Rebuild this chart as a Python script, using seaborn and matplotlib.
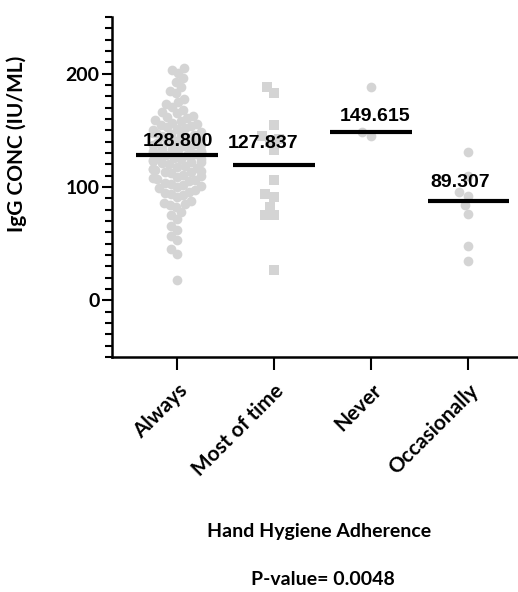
import numpy as np
import pandas as pd
import matplotlib
matplotlib.use('Agg')
import matplotlib.pyplot as plt
import seaborn as sns
from matplotlib.ticker import MultipleLocator

# groups on the x axis
categories = ['Always', 'Most of time', 'Never', 'Occasionally']

# IgG concentration (IU/ML), per group
always_vals = [205, 203, 201, 196, 193, 188, 185, 183, 178, 175, 173, 171,
               168, 166, 165, 163, 162, 161,
               159, 158, 157, 156, 155, 154, 153, 152, 151, 150,
               149, 148, 147, 146, 145, 144, 143, 142, 141, 140, 148, 145,
               139, 138, 137, 136, 135, 134, 133, 132, 131, 130, 137, 134, 132,
               129, 128, 127, 126, 125, 124, 123, 122, 121, 120, 128, 125, 122,
               119, 118, 117, 116, 115, 114, 113, 112, 111, 110, 116, 113,
               109, 108, 106, 105, 104, 102, 101, 100, 107, 103,
               99, 97, 96, 94, 93, 91, 95,
               88, 86, 84, 82, 85, 78, 75, 72, 66, 62, 57, 53, 45, 41, 18]
most_vals = [188, 183, 155, 145, 142, 140, 133, 106, 94, 91, 82, 75, 75, 27]
never_vals = [188, 148.5, 145]
occasional_vals = [131, 110, 95.6, 92, 84, 76, 48, 35]

# numbers printed above each group's line
value_labels = ['128.800', '127.837', '149.615', '89.307']

df = pd.DataFrame({
    'group': (['Always'] * len(always_vals) + ['Most of time'] * len(most_vals)
              + ['Never'] * len(never_vals) + ['Occasionally'] * len(occasional_vals)),
    'igg': always_vals + most_vals + never_vals + occasional_vals,
})

sns.set_theme(style='white')
plt.rcParams['font.family'] = ['Lato', 'DejaVu Sans']
plt.rcParams['text.color'] = 'black'
plt.rcParams['axes.labelcolor'] = 'black'
plt.rcParams['xtick.color'] = 'black'
plt.rcParams['ytick.color'] = 'black'

fig = plt.figure(figsize=(5.18, 5.92), dpi=100)
ax = fig.add_axes([0.216, 0.397, 0.782, 0.574])

grey = '#d4d4d4'
circles = df[df['group'] != 'Most of time']
squares = df[df['group'] == 'Most of time']
sns.swarmplot(data=circles, x='group', y='igg', order=categories, color=grey,
              size=7, marker='o', linewidth=0, ax=ax, warn_thresh=1)
sns.swarmplot(data=squares, x='group', y='igg', order=categories, color=grey,
              size=6.5, marker='s', linewidth=0, ax=ax, warn_thresh=1)

ax.set_xlim(-0.67, 3.5)
ax.set_ylim(-50, 250)

# let seaborn lay out the swarms, then pull the crowded "Always" swarm
# closer together so the dots overlap like the original column scatter
fig.canvas.draw()
for coll in ax.collections:
    if 'draw' in coll.__dict__:
        del coll.draw
    off = coll.get_offsets()
    if len(off) == 0:
        continue
    center = np.round(np.median(off[:, 0]))
    squeeze = 0.62 if len(off) > 50 else 1.0
    off[:, 0] = center + (off[:, 0] - center) * squeeze
    coll.set_offsets(off)

# median lines
medians = df.groupby('group')['igg'].median().reindex(categories)
for i, m in enumerate(medians):
    ax.hlines(m, i - 0.42, i + 0.42, color='black', lw=3, zorder=5)

# value labels above the lines
label_dx = [0.01, -0.11, 0.04, -0.08]
label_dy = [12, 19, 14, 16]
num_font = ['Liberation Sans Narrow', 'Liberation Sans', 'DejaVu Sans']
for i, (m, txt) in enumerate(zip(medians, value_labels)):
    ax.text(i + label_dx[i], m + label_dy[i], txt, ha='center', va='center',
            fontsize=14, fontweight='bold', family=num_font, zorder=6)

ax.yaxis.set_major_locator(MultipleLocator(100))
ax.yaxis.set_minor_locator(MultipleLocator(10))

for s in ['top', 'right']:
    ax.spines[s].set_visible(False)
for s in ['left', 'bottom']:
    ax.spines[s].set_linewidth(1.8)
    ax.spines[s].set_color('black')

ax.tick_params(axis='y', which='major', length=7, width=1.5, labelsize=14, pad=2,
               left=True)
ax.tick_params(axis='y', which='minor', length=5, width=1.5, left=True)
ax.tick_params(axis='x', length=9, width=1.5, bottom=True, pad=8)
for t in ax.get_yticklabels():
    t.set_fontweight('bold')
ax.set_xticks(range(len(categories)))
ax.set_xticklabels(categories, rotation=45, ha='right', rotation_mode='anchor',
                   fontsize=15, fontweight='bold')

ax.set_ylabel('IgG CONC (IU/ML)', fontsize=15, fontweight='bold')
ax.yaxis.set_label_coords(-0.21, 0.626)
ax.set_xlabel('Hand Hygiene Adherence', fontsize=14, fontweight='bold')
ax.xaxis.set_label_coords(0.512, -0.488)
ax.text(0.52, -0.656, 'P-value= 0.0048', transform=ax.transAxes, ha='center',
        va='center', fontsize=14, fontweight='bold')

plt.savefig('out.png', dpi=100)
plt.close()
